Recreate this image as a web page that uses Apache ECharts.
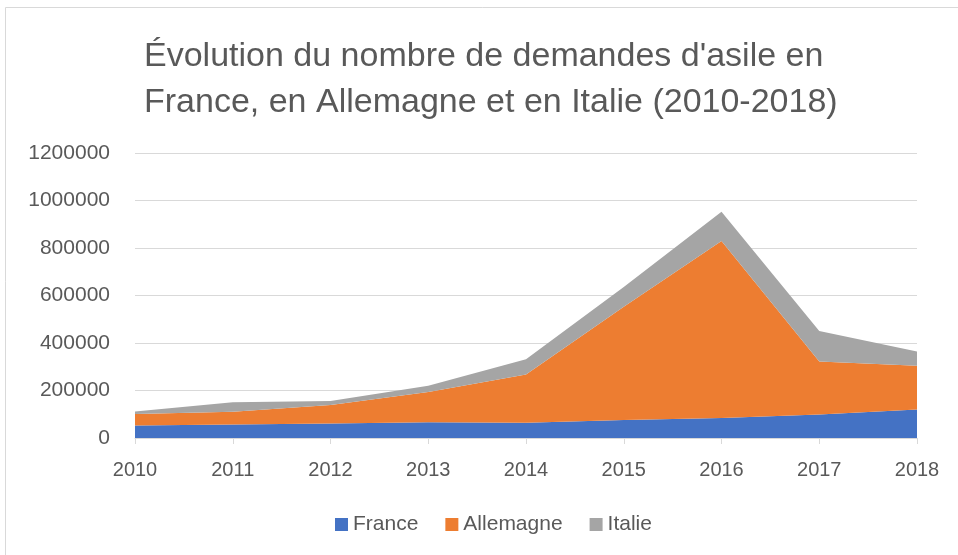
<!DOCTYPE html>
<html>
<head>
<meta charset="utf-8">
<script src="https://cdn.jsdelivr.net/npm/echarts@6/dist/echarts.min.js"></script>
<style>
  html, body { margin: 0; padding: 0; background: #fff; }
  #chart { width: 958px; height: 555px; }
</style>
</head>
<body>
<div id="chart"></div>
<script>
const annees = ['2010', '2011', '2012', '2013', '2014', '2015', '2016', '2017', '2018'];
const france = [52700, 57300, 61400, 66300, 64300, 76200, 84300, 99300, 120400];
const allemagne = [48600, 53200, 77500, 127000, 202600, 476500, 745200, 222600, 184200];
const italie = [10000, 40300, 17300, 26600, 64600, 83500, 123000, 128900, 60000];

const police = '"Liberation Sans", sans-serif';
const gris = '#595959';

const chart = echarts.init(document.getElementById('chart'));

function serie(nom, valeurs, couleur) {
  return {
    name: nom,
    type: 'line',
    stack: 'total',
    data: valeurs,
    symbol: 'none',
    lineStyle: { width: 0 },
    areaStyle: { color: couleur, opacity: 1 },
    itemStyle: { color: couleur }
  };
}

chart.setOption({
  animation: false,
  textStyle: { fontFamily: police },
  graphic: [{
    type: 'rect',
    shape: { x: 5.5, y: 7.5, width: 1000, height: 600 },
    style: { fill: 'none', stroke: '#d9d9d9', lineWidth: 1 }
  }],
  title: {
    text: "Évolution du nombre de demandes d'asile en\nFrance, en Allemagne et en Italie (2010-2018)",
    left: 139,
    top: 29,
    textAlign: 'left',
    textStyle: { fontFamily: police, fontSize: 34, fontWeight: 'normal', color: gris, lineHeight: 46 }
  },
  legend: {
    top: 509,
    left: 330,
    icon: 'rect',
    itemWidth: 13,
    itemHeight: 13,
    itemGap: 27,
    textStyle: { fontSize: 21, color: gris, fontFamily: police },
    data: ['France', 'Allemagne', 'Italie']
  },
  grid: { left: 135, right: 41, top: 153, bottom: 117, containLabel: false },
  xAxis: {
    type: 'category',
    data: annees,
    boundaryGap: false,
    axisLine: { lineStyle: { color: '#d9d9d9' } },
    axisTick: { show: true, length: 6, lineStyle: { color: '#d9d9d9' } },
    axisLabel: { fontSize: 20, color: gris, margin: 22, fontFamily: police }
  },
  yAxis: {
    type: 'value',
    min: 0,
    max: 1200000,
    interval: 200000,
    axisLine: { show: false },
    axisTick: { show: false },
    axisLabel: { fontSize: 21, color: gris, margin: 25, fontFamily: police, formatter: v => String(v) },
    splitLine: { lineStyle: { color: '#d9d9d9', width: 1 } }
  },
  series: [
    serie('France', france, '#4472C4'),
    serie('Allemagne', allemagne, '#ED7D31'),
    serie('Italie', italie, '#A5A5A5')
  ]
});
</script>
</body>
</html>
